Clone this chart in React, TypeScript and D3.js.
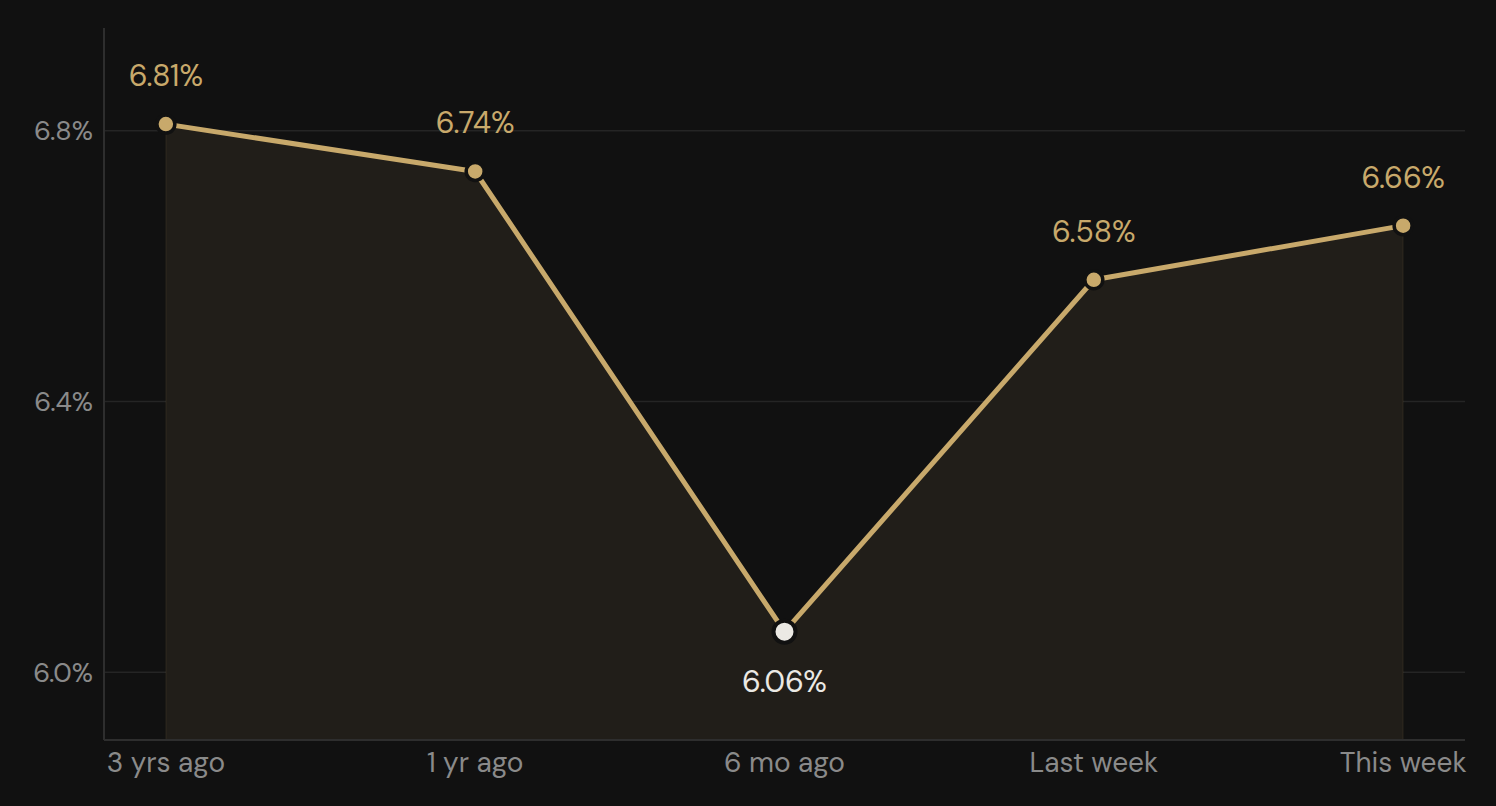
import React from "react";
import * as d3 from "d3";

const categories = ["3 yrs ago", "1 yr ago", "6 mo ago", "Last week", "This week"];
const values = [6.81, 6.74, 6.06, 6.58, 6.66];
const yTicks = [6.0, 6.4, 6.8];
const highlightIndex = 2;

const W = 1496;
const H = 806;
const M = { left: 104, right: 31, top: 28, bottom: 66 };

export default function App() {
  const x = d3
    .scalePoint<string>()
    .domain(categories)
    .range([M.left, W - M.right])
    .padding(0.2);
  const y = d3.scaleLinear().domain([5.9, 6.952]).range([H - M.bottom, M.top]);

  const data = categories.map((c, i) => ({ c, v: values[i], i }));
  const line = d3
    .line<{ c: string; v: number }>()
    .x((d) => x(d.c)!)
    .y((d) => y(d.v));
  const area = d3
    .area<{ c: string; v: number }>()
    .x((d) => x(d.c)!)
    .y0(H - M.bottom)
    .y1((d) => y(d.v));

  const font = "'DM Sans', Inter, 'Noto Sans', sans-serif";

  return (
    <div style={{ position: "fixed", left: 0, top: 0 }}>
      <svg width={W} height={H} style={{ display: "block", background: "#111111" }}>
        {yTicks.map((t) => (
          <g key={t}>
            <line x1={M.left} x2={W - M.right} y1={y(t)} y2={y(t)} stroke="#252525" strokeWidth={1.5} />
            <text
              x={M.left - 11}
              y={y(t)}
              dy="0.35em"
              textAnchor="end"
              fill="#8a8a8a"
              fontSize={27}
              fontFamily={font}
            >
              {t.toFixed(1)}%
            </text>
          </g>
        ))}
        <path d={area(data)!} fill="#211e19" stroke="rgba(200,169,107,0.06)" strokeWidth={2} />
        <line x1={M.left} x2={M.left} y1={M.top} y2={H - M.bottom} stroke="#2e2e2e" strokeWidth={2} />
        <line x1={M.left} x2={W - M.right} y1={H - M.bottom} y2={H - M.bottom} stroke="#2e2e2e" strokeWidth={2} />
        <path d={line(data)!} fill="none" stroke="#c8a96b" strokeWidth={5} strokeLinejoin="round" />
        {data.map((d) => {
          const hi = d.i === highlightIndex;
          return (
            <g key={d.c}>
              <circle
                cx={x(d.c)!}
                cy={y(d.v)}
                r={hi ? 11 : 9}
                fill={hi ? "#ebe9e4" : "#c8a96b"}
                stroke="#111111"
                strokeWidth={hi ? 4 : 3.5}
              />
              <text
                x={x(d.c)!}
                y={hi ? y(d.v) + 60 : y(d.v) - 38}
                textAnchor="middle"
                fill={hi ? "#ebe9e4" : "#c8a96b"}
                fontSize={30}
                fontFamily={font}
              >
                {d.v.toFixed(2)}%
              </text>
            </g>
          );
        })}
        {categories.map((c) => (
          <text
            key={c}
            x={x(c)!}
            y={H - M.bottom + 32}
            textAnchor="middle"
            fill="#8a8a8a"
            fontSize={28}
            fontFamily={font}
          >
            {c}
          </text>
        ))}
      </svg>
    </div>
  );
}
